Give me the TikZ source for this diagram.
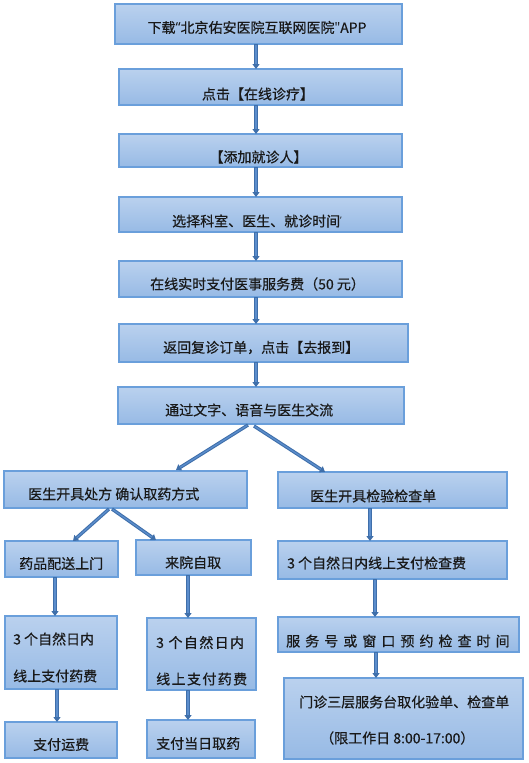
\documentclass[tikz,border=0pt]{standalone}
\usepackage{fontspec}
\setmainfont{Noto Sans CJK SC}[FakeBold=0.5]
\newfontfamily\latin{Noto Sans}
\usetikzlibrary{arrows.meta}
\definecolor{boxtop}{HTML}{BAD1EE}
\definecolor{boxbot}{HTML}{97BAE5}
\definecolor{boxline}{HTML}{6A9FDB}
\definecolor{arrdark}{HTML}{3F6FAA}
\definecolor{arrlight}{HTML}{5B8DCC}
\newcommand\bx[5]{\node[box, minimum width={(#4-#2)*1pt}, minimum height={(#5-#3)*1pt}] (#1) at ({(#2+#4)/2},{(#3+#5)/2}) {};}
\begin{document}
\begin{tikzpicture}[x=1pt,y=-1pt,
  box/.style={rectangle, inner sep=0pt, outer sep=0pt, top color=boxtop, bottom color=boxbot, draw=boxline, line width=1.2pt},
  txt/.style={inner sep=0pt, font=\fontsize{14}{16}\selectfont, text=black!90},
  arr/.style={draw=arrdark, line width=3.4pt, -{Triangle[width=7pt,length=5pt]},
    postaction={draw=arrlight, line width=1.3pt, -, shorten >=5pt, shorten <=0.8pt}}]
\useasboundingbox (0,0) rectangle (528,763);
\fill[white] (0,0) rectangle (528,763);

% boxes
\bx{b1}{115}{4}{402}{44}
\bx{b2}{119}{69}{402}{105}
\bx{b3}{119}{134}{402}{167}
\bx{b4}{119}{197}{402}{232}
\bx{b5}{119}{261}{402}{297}
\bx{b6}{119}{324}{408}{362}
\bx{b7}{118}{387}{404}{424}
\bx{b8}{4}{471}{247}{508}
\bx{b9}{278}{472}{507}{508}
\bx{b10}{5}{541}{118}{577}
\bx{b11}{136}{540}{251}{575}
\bx{b12}{278}{541}{507}{579}
\bx{b13}{5}{616}{117}{689}
\bx{b14}{147}{618}{256}{690}
\bx{b15}{278}{617}{519}{652}
\bx{b16}{284}{678}{523}{759}
\bx{b17}{5}{722}{117}{758}
\bx{b18}{147}{720}{255}{758}

% texts
\node[txt] (t1) at (257,27.5) {下载{\latin “}北京佑安医院互联网医院{\latin "}APP};
\node[txt] (t2) at (258,94) {点击【在线诊疗】};
\node[txt] (t3) at (258.5,157) {【添加就诊人】};
\node[txt, anchor=west] (t4) at (172,221) {选择科室、医生、就诊时间{\latin\fontsize{9}{10}\selectfont\raisebox{3pt}{’}}};
\node[txt, anchor=west] (t5) at (150,284) {在线实时支付医事服务费（50 元）};
\node[txt, anchor=west] (t6) at (163,347.5) {返回复诊订单，点击【去报到】};
\node[txt, anchor=west] (t7) at (165,410) {通过文字、语音与医生交流};
\node[txt, anchor=west] (t8) at (28,494) {医生开具处方 确认取药方式};
\node[txt, anchor=west] (t9) at (310,496) {医生开具检验检查单};
\node[txt, anchor=west] (t10) at (19,563.5) {药品配送上门};
\node[txt, anchor=west] (t11) at (165,562.5) {来院自取};
\node[txt, anchor=west] (t12) at (287,563) {3 个自然日内线上支付检查费};
\node[txt, anchor=west] (t13a) at (13,639) {3 个自然日内};
\node[txt, anchor=west] (t13b) at (13,676) {线上支付药费};
\node[txt, anchor=west] (t14a) at (156,642.5) {\addfontfeatures{LetterSpace=10}3 个自然日内};
\node[txt, anchor=west] (t14b) at (156,679) {\addfontfeatures{LetterSpace=10}线上支付药费};
\node[txt, anchor=west] (t15) at (286,641) {\addfontfeatures{LetterSpace=36}服务号或窗口预约检查时间};
\node[txt, anchor=west] (t16a) at (299,702) {门诊三层服务台取化验单、检查单};
\node[txt, anchor=west] (t16b) at (320,738) {（限工作日 8:00-17:00）};
\node[txt, anchor=west] (t17) at (33,744.5) {支付运费};
\node[txt, anchor=west] (t18) at (156,743.5) {支付当日取药};

% column coordinates
\coordinate (c256) at (256,0);
\coordinate (c370) at (370,0);
\coordinate (c375) at (375,0);
\coordinate (c376) at (376,0);
\coordinate (c55) at (55,0);
\coordinate (c57) at (57,0);
\coordinate (c188) at (188,0);
\coordinate (d248) at (248,0);
\coordinate (d254) at (254,0);
\coordinate (d176) at (176,0);
\coordinate (d325) at (325,0);
\coordinate (d109) at (109,0);
\coordinate (d112) at (112,0);
\coordinate (d73) at (73,0);
\coordinate (d156) at (156,0);

% arrows
\draw[arr] (b1.south -| c256) -- (b2.north -| c256);
\draw[arr] (b2.south -| c256) -- (b3.north -| c256);
\draw[arr] (b3.south -| c256) -- (b4.north -| c256);
\draw[arr] (b4.south -| c256) -- (b5.north -| c256);
\draw[arr] (b5.south -| c256) -- (b6.north -| c256);
\draw[arr] (b6.south -| c256) -- (b7.north -| c256);
\draw[arr] ([yshift=-1pt]b7.south -| d248) -- ([yshift=1pt]b8.north -| d176);
\draw[arr] ([yshift=-2pt]b7.south -| d254) -- (b9.north -| d325);
\draw[arr] ([yshift=-1pt]b8.south -| d109) -- (b10.north -| d73);
\draw[arr] ([yshift=-1pt]b8.south -| d112) -- (b11.north -| d156);
\draw[arr] (b9.south -| c370) -- (b12.north -| c370);
\draw[arr] (b12.south -| c375) -- (b15.north -| c375);
\draw[arr] (b15.south -| c376) -- (b16.north -| c376);
\draw[arr] (b10.south -| c55) -- (b13.north -| c55);
\draw[arr] (b13.south -| c57) -- (b17.north -| c57);
\draw[arr] (b11.south -| c188) -- (b14.north -| c188);
\draw[arr] (b14.south -| c188) -- (b18.north -| c188);
\end{tikzpicture}
\end{document}
